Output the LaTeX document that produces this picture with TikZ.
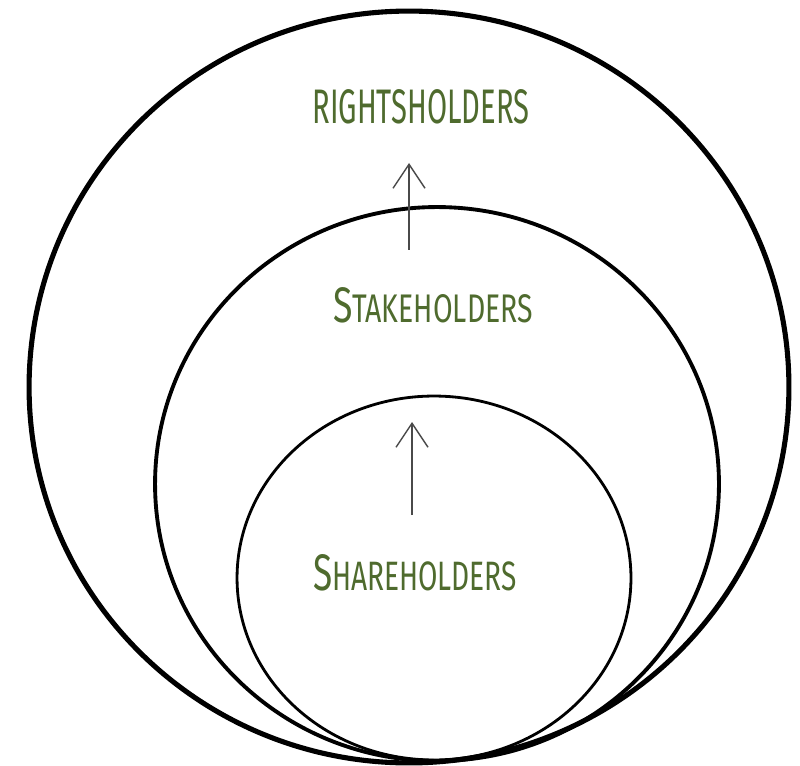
\documentclass[tikz,border=0pt]{standalone}
\usepackage{fontspec}
\setmainfont{Fira Sans}
\usepackage{graphicx}
\usetikzlibrary{
    arrows.meta,
    shapes.geometric,
    positioning
}
\definecolor{leafgreen}{HTML}{4F6B2E}
\definecolor{pencil}{HTML}{4A4A4A}
% squeezed caps word: width, height, big letter, rest
\newcommand{\capsword}[4]{\resizebox{#1}{#2}{\fontsize{30}{30}\selectfont #3\fontsize{24}{24}\selectfont #4}}
% squeezed caps word, all letters the same size
\newcommand{\flatword}[3]{\resizebox{#1}{#2}{\fontsize{24}{24}\selectfont #3}}

\begin{document}
\begin{tikzpicture}[x=0.02cm, y=-0.02cm,
    ring/.style={draw=black, ellipse, inner sep=0pt},
    tag/.style={text=leafgreen, inner sep=0pt},
    uparrow/.style={draw=pencil, line width=0.8pt,
        -{Straight Barb[length=0.48cm, width=0.64cm, line width=0.8pt]}}]
    \useasboundingbox (0, 0) rectangle (800, 766);
    % the three rings, all touching at the bottom
    \node[ring, line width=2.9pt, minimum width=15.2cm, minimum height=15.04cm] (outer) at (409, 387) {};
    \node[ring, line width=2.2pt, minimum width=11.28cm, minimum height=11.08cm] (middle) at (437, 484) {};
    \node[ring, line width=1.6pt, minimum width=7.88cm, minimum height=7.28cm] (inner) at (434, 578) {};
    % labels
    \node[tag] (rights) at (421, 107) {\flatword{4.34cm}{0.68cm}{RIGHTSHOLDERS}};
    \node[tag] (stake) at (433, 305) {\capsword{4.0cm}{0.70cm}{S}{TAKEHOLDERS}};
    \node[tag] (share) at (415, 573) {\capsword{4.08cm}{0.72cm}{S}{HAREHOLDERS}};
    % arrow ends
    \coordinate (stakefoot) at (409, 250);
    \coordinate (rightshead) at (409, 163);
    \coordinate (sharefoot) at (412, 515);
    \coordinate (stakehead) at (412, 422);
    \draw[uparrow] (stakefoot) -- (rightshead);
    \draw[uparrow] (sharefoot) -- (stakehead);
\end{tikzpicture}
\end{document}
